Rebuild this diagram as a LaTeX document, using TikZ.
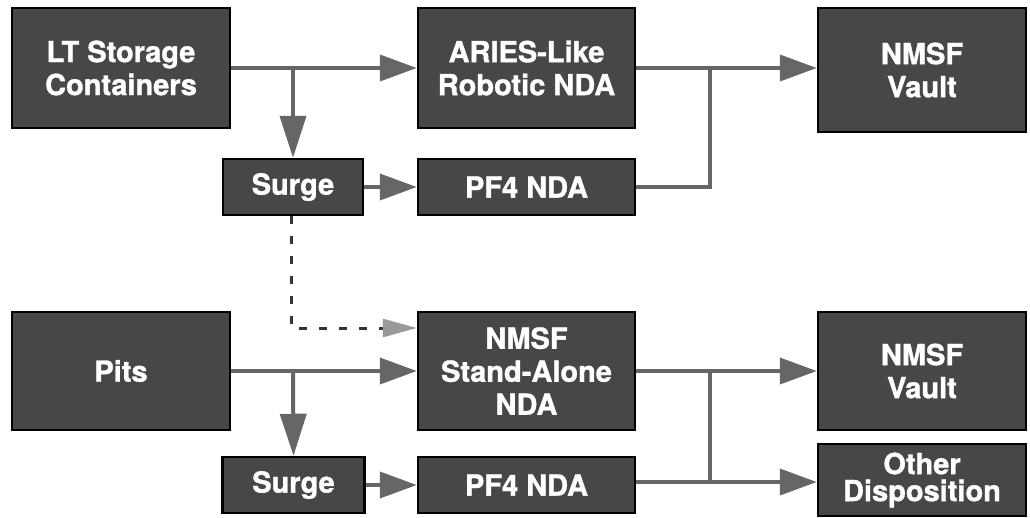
\documentclass[tikz,border=0pt]{standalone}
\usepackage{fontspec}
\setmainfont{TeX Gyre Heros}
\newfontfamily\boxfont{texgyreheros-bold.otf}[FakeBold=1.2]
\usetikzlibrary{arrows.meta}
\definecolor{boxfill}{gray}{0.28}
\definecolor{linegray}{gray}{0.40}
\begin{document}
\begin{tikzpicture}[x=1pt,y=-1pt,
  box/.style={draw=black, line width=2.5pt, fill=boxfill, text=white,
    font=\boxfont\fontsize{29}{33}\selectfont, align=center, inner sep=0pt},
  flow/.style={draw=linegray, line width=4pt,
    -{Triangle[length=37pt,width=26pt]}},
  downflow/.style={draw=linegray, line width=4pt,
    -{Triangle[length=42pt,width=26pt]}},
  plain/.style={draw=linegray, line width=4pt},
  dashflow/.style={draw=black!80, line width=3pt, dash pattern=on 8pt off 12pt,
    -{Triangle[length=34pt,width=18pt,fill=black!40,color=black!40]}}
]
\useasboundingbox (0,0) rectangle (1030,517);
% top row
\node[box, minimum width=218pt, minimum height=120pt] (lt) at (121,68) {LT Storage\\Containers};
\node[box, minimum width=217pt, minimum height=120pt] (aries) at (526.5,68) {ARIES-Like\\Robotic NDA};
\node[box, minimum width=208pt, minimum height=124pt] (vault1) at (922,70) {NMSF\\Vault};
\node[box, minimum width=140pt, minimum height=56pt] (surge1) at (293,187) {Surge};
\node[box, minimum width=217pt, minimum height=56pt] (pf41) at (526.5,187) {PF4 NDA};
% bottom row
\node[box, minimum width=218pt, minimum height=118pt] (pits) at (121,371) {Pits};
\node[box, minimum width=217pt, minimum height=118pt] (nmsf) at (526.5,371) {NMSF\\Stand-Alone\\NDA};
\node[box, minimum width=208pt, minimum height=118pt] (vault2) at (922,371) {NMSF\\Vault};
\node[box, minimum width=208pt, minimum height=72pt, font=\boxfont\fontsize{29}{27}\selectfont] (other) at (922,480) {Other\\Disposition};
\node[box, minimum width=142pt, minimum height=56pt] (surge2) at (293.5,485) {Surge};
\node[box, minimum width=217pt, minimum height=56pt] (pf42) at (526.5,485) {PF4 NDA};
% coordinates
\coordinate (j1) at (293,68);
\coordinate (r1) at (710,68);
\coordinate (r1b) at (710,187);
\coordinate (d1) at (291,328);
\coordinate (j2) at (293,371);
\coordinate (r2) at (710,371);
\coordinate (r2b) at (710,482);
% top connectors
\draw[flow] (lt.east) -- (aries.west);
\draw[downflow] (j1) -- (surge1.north);
\draw[flow] (surge1.east) -- (pf41.west);
\draw[flow] (aries.east) -- (aries.east -| vault1.west);
\draw[plain] (pf41.east) -- (r1b) -- (r1);
% dashed connector
\draw[dashflow] (surge1.south -| d1) -- (d1) -- (d1 -| nmsf.west);
% bottom connectors
\draw[flow] (pits.east) -- (nmsf.west);
\draw[downflow] (j2) -- (surge2.north);
\draw[flow] (surge2.east) -- (pf42.west);
\draw[flow] (nmsf.east) -- (vault2.west);
\draw[plain] (r2) -- (r2b);
\draw[flow] (pf42.east |- r2b) -- (r2b -| other.west);
\end{tikzpicture}
\end{document}
